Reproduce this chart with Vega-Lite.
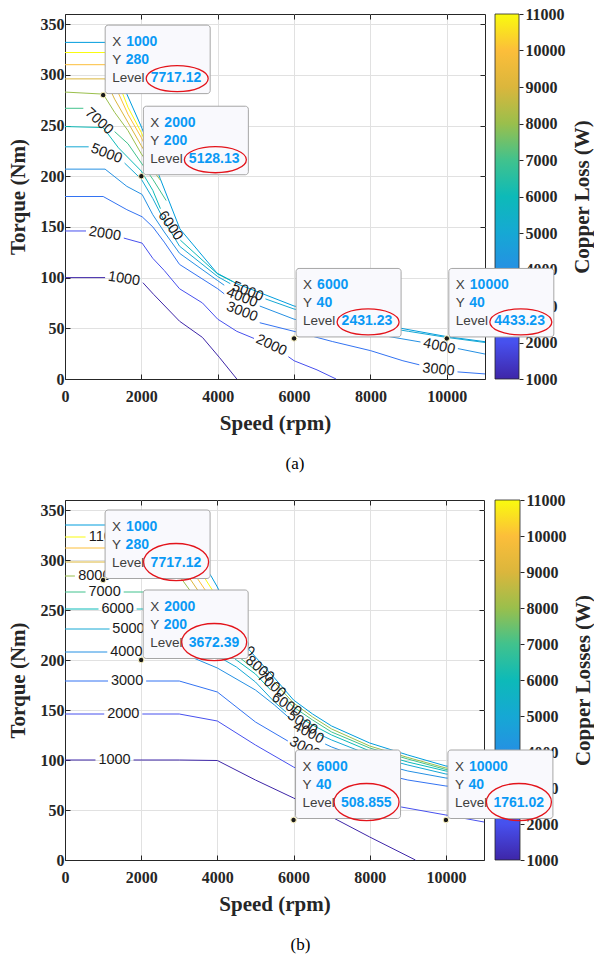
{
  "$schema": "https://vega.github.io/schema/vega-lite/v6.json",
  "background": "white",
  "padding": {"left": 6, "top": 5, "right": 0, "bottom": 0},
  "config": {
    "view": {"stroke": "#262626", "strokeWidth": 1},
    "axis": {
      "labelFont": "Liberation Serif", "labelFontWeight": "bold", "labelFontSize": 16, "labelColor": "#262626",
      "titleFont": "Liberation Serif", "titleFontWeight": "bold", "titleFontSize": 21, "titleColor": "#262626",
      "gridColor": "#e1e1e1", "domainColor": "#262626", "tickColor": "#262626",
      "labelFlush": false, "labelOverlap": false
    },
    "text": {"font": "Liberation Sans"}
  },
  "datasets": {
    "tips": [
      {"panel": "a", "speed": 1000, "torque": 280, "level": 7717.12},
      {"panel": "a", "speed": 2000, "torque": 200, "level": 5128.13},
      {"panel": "a", "speed": 6000, "torque": 40, "level": 2431.23},
      {"panel": "a", "speed": 10000, "torque": 40, "level": 4433.23},
      {"panel": "b", "speed": 1000, "torque": 280, "level": 7717.12},
      {"panel": "b", "speed": 2000, "torque": 200, "level": 3672.39},
      {"panel": "b", "speed": 6000, "torque": 40, "level": 508.855},
      {"panel": "b", "speed": 10000, "torque": 40, "level": 1761.02}
    ],
    "contours": [
      {"panel":"a","level":4500,"seg":"aE","speed":0,"torque":332},
      {"panel":"a","level":4500,"seg":"aE","speed":1050,"torque":332},
      {"panel":"a","level":4500,"seg":"aE","speed":1620,"torque":281},
      {"panel":"a","level":4500,"seg":"aE","speed":2020,"torque":247},
      {"panel":"a","level":4500,"seg":"aE","speed":2490,"torque":198},
      {"panel":"a","level":4500,"seg":"aE","speed":3010,"torque":148},
      {"panel":"a","level":4500,"seg":"aE","speed":3980,"torque":104.5},
      {"panel":"a","level":4500,"seg":"aE","speed":4500,"torque":94},
      {"panel":"a","level":4500,"seg":"aE","speed":6000,"torque":72},
      {"panel":"a","level":4500,"seg":"aE","speed":8800,"torque":50},
      {"panel":"a","level":4500,"seg":"aE","speed":10000,"torque":41.8},
      {"panel":"a","level":4500,"seg":"aE","speed":11000,"torque":36.8},
      {"panel":"a","level":11000,"seg":"a11000-1","speed":0,"torque":322},
      {"panel":"a","level":11000,"seg":"a11000-1","speed":1050,"torque":322},
      {"panel":"a","level":11000,"seg":"a11000-1","speed":1400,"torque":292},
      {"panel":"a","level":11000,"seg":"a11000-1","speed":1650,"torque":268},
      {"panel":"a","level":11000,"seg":"a11000-1","speed":2000,"torque":243},
      {"panel":"a","level":11000,"seg":"a11000-1","speed":2100,"torque":234},
      {"panel":"a","level":10000,"seg":"a10000-1","speed":0,"torque":310},
      {"panel":"a","level":10000,"seg":"a10000-1","speed":1050,"torque":310},
      {"panel":"a","level":10000,"seg":"a10000-1","speed":1350,"torque":286},
      {"panel":"a","level":10000,"seg":"a10000-1","speed":1650,"torque":261},
      {"panel":"a","level":10000,"seg":"a10000-1","speed":2000,"torque":238},
      {"panel":"a","level":10000,"seg":"a10000-1","speed":2200,"torque":222},
      {"panel":"a","level":9000,"seg":"a9000-1","speed":0,"torque":296},
      {"panel":"a","level":9000,"seg":"a9000-1","speed":1050,"torque":296},
      {"panel":"a","level":9000,"seg":"a9000-1","speed":1300,"torque":276},
      {"panel":"a","level":9000,"seg":"a9000-1","speed":1650,"torque":253},
      {"panel":"a","level":9000,"seg":"a9000-1","speed":2000,"torque":230},
      {"panel":"a","level":9000,"seg":"a9000-1","speed":2300,"torque":212},
      {"panel":"a","level":8000,"seg":"a8000-1","speed":0,"torque":283},
      {"panel":"a","level":8000,"seg":"a8000-1","speed":1000,"torque":281},
      {"panel":"a","level":8000,"seg":"a8000-1","speed":1300,"torque":263},
      {"panel":"a","level":8000,"seg":"a8000-1","speed":1650,"torque":245},
      {"panel":"a","level":8000,"seg":"a8000-1","speed":2000,"torque":222},
      {"panel":"a","level":8000,"seg":"a8000-1","speed":2300,"torque":206},
      {"panel":"a","level":8000,"seg":"a8000-1","speed":2500,"torque":196},
      {"panel":"a","level":7000,"seg":"a7000-1","speed":0,"torque":267},
      {"panel":"a","level":7000,"seg":"a7000-1","speed":480,"torque":267},
      {"panel":"a","level":7000,"seg":"a7000-2","speed":1300,"torque":244},
      {"panel":"a","level":7000,"seg":"a7000-2","speed":1650,"torque":232},
      {"panel":"a","level":7000,"seg":"a7000-2","speed":2000,"torque":213},
      {"panel":"a","level":7000,"seg":"a7000-2","speed":2300,"torque":197},
      {"panel":"a","level":7000,"seg":"a7000-2","speed":2650,"torque":176},
      {"panel":"a","level":6000,"seg":"a6000-1","speed":0,"torque":249},
      {"panel":"a","level":6000,"seg":"a6000-1","speed":1000,"torque":248},
      {"panel":"a","level":6000,"seg":"a6000-1","speed":1400,"torque":228},
      {"panel":"a","level":6000,"seg":"a6000-1","speed":2000,"torque":205},
      {"panel":"a","level":6000,"seg":"a6000-1","speed":2300,"torque":186},
      {"panel":"a","level":6000,"seg":"a6000-1","speed":2500,"torque":168},
      {"panel":"a","level":6000,"seg":"a6000-2","speed":3020,"torque":137},
      {"panel":"a","level":6000,"seg":"a6000-2","speed":4000,"torque":103.5},
      {"panel":"a","level":6000,"seg":"a6000-2","speed":4400,"torque":96},
      {"panel":"a","level":5000,"seg":"a5000-1","speed":0,"torque":229},
      {"panel":"a","level":5000,"seg":"a5000-1","speed":620,"torque":229},
      {"panel":"a","level":5000,"seg":"a5000-2","speed":1560,"torque":213},
      {"panel":"a","level":5000,"seg":"a5000-2","speed":2000,"torque":197},
      {"panel":"a","level":5000,"seg":"a5000-2","speed":2300,"torque":178},
      {"panel":"a","level":5000,"seg":"a5000-2","speed":2600,"torque":156},
      {"panel":"a","level":5000,"seg":"a5000-2","speed":3000,"torque":131},
      {"panel":"a","level":5000,"seg":"a5000-2","speed":4000,"torque":101},
      {"panel":"a","level":5000,"seg":"a5000-2","speed":4330,"torque":94},
      {"panel":"a","level":5000,"seg":"a5000-3","speed":5250,"torque":79},
      {"panel":"a","level":5000,"seg":"a5000-3","speed":6000,"torque":69},
      {"panel":"a","level":5000,"seg":"a5000-3","speed":7000,"torque":60},
      {"panel":"a","level":5000,"seg":"a5000-3","speed":8000,"torque":53},
      {"panel":"a","level":5000,"seg":"a5000-3","speed":9000,"torque":47},
      {"panel":"a","level":5000,"seg":"a5000-3","speed":10000,"torque":41},
      {"panel":"a","level":5000,"seg":"a5000-3","speed":11000,"torque":36},
      {"panel":"a","level":4000,"seg":"a4000-1","speed":0,"torque":207},
      {"panel":"a","level":4000,"seg":"a4000-1","speed":1050,"torque":207},
      {"panel":"a","level":4000,"seg":"a4000-1","speed":1620,"torque":190},
      {"panel":"a","level":4000,"seg":"a4000-1","speed":2020,"torque":182},
      {"panel":"a","level":4000,"seg":"a4000-1","speed":2300,"torque":162},
      {"panel":"a","level":4000,"seg":"a4000-1","speed":2600,"torque":145},
      {"panel":"a","level":4000,"seg":"a4000-1","speed":3000,"torque":124},
      {"panel":"a","level":4000,"seg":"a4000-1","speed":4000,"torque":97},
      {"panel":"a","level":4000,"seg":"a4000-1","speed":4170,"torque":92.5},
      {"panel":"a","level":4000,"seg":"a4000-2","speed":5100,"torque":72},
      {"panel":"a","level":4000,"seg":"a4000-2","speed":6000,"torque":59},
      {"panel":"a","level":4000,"seg":"a4000-2","speed":7000,"torque":51},
      {"panel":"a","level":4000,"seg":"a4000-2","speed":8000,"torque":45},
      {"panel":"a","level":4000,"seg":"a4000-2","speed":9310,"torque":36.5},
      {"panel":"a","level":4000,"seg":"a4000-3","speed":10290,"torque":30},
      {"panel":"a","level":4000,"seg":"a4000-3","speed":11000,"torque":24.6},
      {"panel":"a","level":3000,"seg":"a3000-1","speed":0,"torque":180},
      {"panel":"a","level":3000,"seg":"a3000-1","speed":1000,"torque":180},
      {"panel":"a","level":3000,"seg":"a3000-1","speed":1620,"torque":167},
      {"panel":"a","level":3000,"seg":"a3000-1","speed":2020,"torque":160},
      {"panel":"a","level":3000,"seg":"a3000-1","speed":2300,"torque":150},
      {"panel":"a","level":3000,"seg":"a3000-1","speed":2600,"torque":135},
      {"panel":"a","level":3000,"seg":"a3000-1","speed":3000,"torque":113},
      {"panel":"a","level":3000,"seg":"a3000-1","speed":4000,"torque":89},
      {"panel":"a","level":3000,"seg":"a3000-1","speed":4170,"torque":84},
      {"panel":"a","level":3000,"seg":"a3000-2","speed":5100,"torque":55.5},
      {"panel":"a","level":3000,"seg":"a3000-2","speed":6000,"torque":47},
      {"panel":"a","level":3000,"seg":"a3000-2","speed":7000,"torque":37},
      {"panel":"a","level":3000,"seg":"a3000-2","speed":8000,"torque":28},
      {"panel":"a","level":3000,"seg":"a3000-2","speed":8850,"torque":18},
      {"panel":"a","level":3000,"seg":"a3000-2","speed":9280,"torque":14},
      {"panel":"a","level":3000,"seg":"a3000-3","speed":10280,"torque":7},
      {"panel":"a","level":3000,"seg":"a3000-3","speed":11000,"torque":5},
      {"panel":"a","level":2000,"seg":"a2000-1","speed":0,"torque":146},
      {"panel":"a","level":2000,"seg":"a2000-1","speed":550,"torque":146},
      {"panel":"a","level":2000,"seg":"a2000-2","speed":1540,"torque":139},
      {"panel":"a","level":2000,"seg":"a2000-2","speed":2020,"torque":134},
      {"panel":"a","level":2000,"seg":"a2000-2","speed":2300,"torque":119},
      {"panel":"a","level":2000,"seg":"a2000-2","speed":2600,"torque":107},
      {"panel":"a","level":2000,"seg":"a2000-2","speed":3000,"torque":89},
      {"panel":"a","level":2000,"seg":"a2000-2","speed":3600,"torque":75},
      {"panel":"a","level":2000,"seg":"a2000-2","speed":4000,"torque":59},
      {"panel":"a","level":2000,"seg":"a2000-2","speed":4500,"torque":47},
      {"panel":"a","level":2000,"seg":"a2000-2","speed":4950,"torque":40},
      {"panel":"a","level":2000,"seg":"a2000-3","speed":5850,"torque":22},
      {"panel":"a","level":2000,"seg":"a2000-3","speed":6000,"torque":18},
      {"panel":"a","level":2000,"seg":"a2000-3","speed":6600,"torque":9},
      {"panel":"a","level":2000,"seg":"a2000-3","speed":7100,"torque":0},
      {"panel":"a","level":1000,"seg":"a1000-1","speed":0,"torque":100},
      {"panel":"a","level":1000,"seg":"a1000-1","speed":1050,"torque":100},
      {"panel":"a","level":1000,"seg":"a1000-2","speed":2040,"torque":95},
      {"panel":"a","level":1000,"seg":"a1000-2","speed":2320,"torque":83.5},
      {"panel":"a","level":1000,"seg":"a1000-2","speed":3000,"torque":57},
      {"panel":"a","level":1000,"seg":"a1000-2","speed":3600,"torque":41},
      {"panel":"a","level":1000,"seg":"a1000-2","speed":4050,"torque":21},
      {"panel":"a","level":1000,"seg":"a1000-2","speed":4500,"torque":0},

      {"panel":"b","level":4500,"seg":"bE","speed":0,"torque":335},
      {"panel":"b","level":4500,"seg":"bE","speed":3000,"torque":335},
      {"panel":"b","level":4500,"seg":"bE","speed":3400,"torque":310},
      {"panel":"b","level":4500,"seg":"bE","speed":3850,"torque":283},
      {"panel":"b","level":4500,"seg":"bE","speed":4000,"torque":273},
      {"panel":"b","level":4500,"seg":"bE","speed":4770,"torque":213},
      {"panel":"b","level":4500,"seg":"bE","speed":5000,"torque":203},
      {"panel":"b","level":4500,"seg":"bE","speed":5500,"torque":182},
      {"panel":"b","level":4500,"seg":"bE","speed":6000,"torque":160},
      {"panel":"b","level":4500,"seg":"bE","speed":6500,"torque":146},
      {"panel":"b","level":4500,"seg":"bE","speed":7000,"torque":134},
      {"panel":"b","level":4500,"seg":"bE","speed":8000,"torque":117},
      {"panel":"b","level":4500,"seg":"bE","speed":9000,"torque":105},
      {"panel":"b","level":4500,"seg":"bE","speed":10000,"torque":94},
      {"panel":"b","level":4500,"seg":"bE","speed":11000,"torque":90},
      {"panel":"b","level":11000,"seg":"b11000-1","speed":0,"torque":323},
      {"panel":"b","level":11000,"seg":"b11000-1","speed":540,"torque":323},
      {"panel":"b","level":11000,"seg":"b11000-2","speed":1700,"torque":323},
      {"panel":"b","level":11000,"seg":"b11000-2","speed":3000,"torque":323},
      {"panel":"b","level":11000,"seg":"b11000-2","speed":3400,"torque":298},
      {"panel":"b","level":11000,"seg":"b11000-2","speed":3650,"torque":283},
      {"panel":"b","level":11000,"seg":"b11000-2","speed":4000,"torque":262},
      {"panel":"b","level":11000,"seg":"b11000-2","speed":4400,"torque":236},
      {"panel":"b","level":10000,"seg":"b10000-1","speed":0,"torque":312},
      {"panel":"b","level":10000,"seg":"b10000-1","speed":3000,"torque":312},
      {"panel":"b","level":10000,"seg":"b10000-1","speed":3450,"torque":283},
      {"panel":"b","level":10000,"seg":"b10000-1","speed":4000,"torque":252},
      {"panel":"b","level":10000,"seg":"b10000-1","speed":4500,"torque":225},
      {"panel":"b","level":10000,"seg":"b10000-1","speed":4800,"torque":210},
      {"panel":"b","level":9000,"seg":"b9000-1","speed":0,"torque":298},
      {"panel":"b","level":9000,"seg":"b9000-1","speed":3000,"torque":298},
      {"panel":"b","level":9000,"seg":"b9000-1","speed":3250,"torque":283},
      {"panel":"b","level":9000,"seg":"b9000-1","speed":4000,"torque":241},
      {"panel":"b","level":9000,"seg":"b9000-1","speed":4350,"torque":223},
      {"panel":"b","level":8000,"seg":"b8000-1","speed":0,"torque":284},
      {"panel":"b","level":8000,"seg":"b8000-1","speed":260,"torque":284},
      {"panel":"b","level":8000,"seg":"b8000-2","speed":1280,"torque":284},
      {"panel":"b","level":8000,"seg":"b8000-2","speed":3000,"torque":284},
      {"panel":"b","level":8000,"seg":"b8000-2","speed":3100,"torque":279},
      {"panel":"b","level":8000,"seg":"b8000-2","speed":4000,"torque":232},
      {"panel":"b","level":8000,"seg":"b8000-2","speed":4500,"torque":210},
      {"panel":"b","level":8000,"seg":"b8000-2","speed":4730,"torque":203},
      {"panel":"b","level":8000,"seg":"b8000-3","speed":5490,"torque":178},
      {"panel":"b","level":8000,"seg":"b8000-3","speed":6000,"torque":157},
      {"panel":"b","level":8000,"seg":"b8000-3","speed":6500,"torque":143},
      {"panel":"b","level":8000,"seg":"b8000-3","speed":7000,"torque":131},
      {"panel":"b","level":8000,"seg":"b8000-3","speed":8000,"torque":114},
      {"panel":"b","level":8000,"seg":"b8000-3","speed":9000,"torque":102.5},
      {"panel":"b","level":8000,"seg":"b8000-3","speed":10000,"torque":92},
      {"panel":"b","level":8000,"seg":"b8000-3","speed":11000,"torque":88.5},
      {"panel":"b","level":7000,"seg":"b7000-1","speed":0,"torque":268},
      {"panel":"b","level":7000,"seg":"b7000-1","speed":540,"torque":268},
      {"panel":"b","level":7000,"seg":"b7000-2","speed":1540,"torque":268},
      {"panel":"b","level":7000,"seg":"b7000-2","speed":3000,"torque":268},
      {"panel":"b","level":7000,"seg":"b7000-2","speed":3300,"torque":255},
      {"panel":"b","level":7000,"seg":"b7000-2","speed":4000,"torque":222},
      {"panel":"b","level":7000,"seg":"b7000-2","speed":4500,"torque":205},
      {"panel":"b","level":7000,"seg":"b7000-2","speed":5030,"torque":189},
      {"panel":"b","level":7000,"seg":"b7000-3","speed":5815,"torque":160},
      {"panel":"b","level":7000,"seg":"b7000-3","speed":6000,"torque":153},
      {"panel":"b","level":7000,"seg":"b7000-3","speed":6500,"torque":140},
      {"panel":"b","level":7000,"seg":"b7000-3","speed":7000,"torque":128},
      {"panel":"b","level":7000,"seg":"b7000-3","speed":8000,"torque":112},
      {"panel":"b","level":7000,"seg":"b7000-3","speed":9000,"torque":101},
      {"panel":"b","level":7000,"seg":"b7000-3","speed":10000,"torque":90.5},
      {"panel":"b","level":7000,"seg":"b7000-3","speed":11000,"torque":87},
      {"panel":"b","level":6000,"seg":"b6000-1","speed":0,"torque":251},
      {"panel":"b","level":6000,"seg":"b6000-1","speed":880,"torque":251},
      {"panel":"b","level":6000,"seg":"b6000-2","speed":1880,"torque":251},
      {"panel":"b","level":6000,"seg":"b6000-2","speed":3000,"torque":251},
      {"panel":"b","level":6000,"seg":"b6000-2","speed":4000,"torque":215},
      {"panel":"b","level":6000,"seg":"b6000-2","speed":4500,"torque":200},
      {"panel":"b","level":6000,"seg":"b6000-2","speed":5000,"torque":186},
      {"panel":"b","level":6000,"seg":"b6000-2","speed":5400,"torque":170},
      {"panel":"b","level":6000,"seg":"b6000-3","speed":6225,"torque":141},
      {"panel":"b","level":6000,"seg":"b6000-3","speed":6500,"torque":135},
      {"panel":"b","level":6000,"seg":"b6000-3","speed":7000,"torque":125},
      {"panel":"b","level":6000,"seg":"b6000-3","speed":8000,"torque":109},
      {"panel":"b","level":6000,"seg":"b6000-3","speed":9000,"torque":98},
      {"panel":"b","level":6000,"seg":"b6000-3","speed":10000,"torque":89},
      {"panel":"b","level":6000,"seg":"b6000-3","speed":11000,"torque":85.5},
      {"panel":"b","level":5000,"seg":"b5000-1","speed":0,"torque":231},
      {"panel":"b","level":5000,"seg":"b5000-1","speed":1170,"torque":231},
      {"panel":"b","level":5000,"seg":"b5000-2","speed":2170,"torque":231},
      {"panel":"b","level":5000,"seg":"b5000-2","speed":3000,"torque":231},
      {"panel":"b","level":5000,"seg":"b5000-2","speed":4000,"torque":204},
      {"panel":"b","level":5000,"seg":"b5000-2","speed":4500,"torque":193},
      {"panel":"b","level":5000,"seg":"b5000-2","speed":5000,"torque":178},
      {"panel":"b","level":5000,"seg":"b5000-2","speed":5500,"torque":158},
      {"panel":"b","level":5000,"seg":"b5000-2","speed":5800,"torque":148},
      {"panel":"b","level":5000,"seg":"b5000-3","speed":6660,"torque":126},
      {"panel":"b","level":5000,"seg":"b5000-3","speed":7000,"torque":120},
      {"panel":"b","level":5000,"seg":"b5000-3","speed":8000,"torque":105},
      {"panel":"b","level":5000,"seg":"b5000-3","speed":9000,"torque":95},
      {"panel":"b","level":5000,"seg":"b5000-3","speed":10000,"torque":86},
      {"panel":"b","level":5000,"seg":"b5000-3","speed":11000,"torque":83},
      {"panel":"b","level":4000,"seg":"b4000-1","speed":0,"torque":208},
      {"panel":"b","level":4000,"seg":"b4000-1","speed":1110,"torque":208},
      {"panel":"b","level":4000,"seg":"b4000-2","speed":2110,"torque":208},
      {"panel":"b","level":4000,"seg":"b4000-2","speed":3000,"torque":208},
      {"panel":"b","level":4000,"seg":"b4000-2","speed":4000,"torque":192},
      {"panel":"b","level":4000,"seg":"b4000-2","speed":5000,"torque":170},
      {"panel":"b","level":4000,"seg":"b4000-2","speed":5500,"torque":155},
      {"panel":"b","level":4000,"seg":"b4000-2","speed":5950,"torque":140},
      {"panel":"b","level":4000,"seg":"b4000-3","speed":6830,"torque":116},
      {"panel":"b","level":4000,"seg":"b4000-3","speed":7000,"torque":113},
      {"panel":"b","level":4000,"seg":"b4000-3","speed":8000,"torque":99},
      {"panel":"b","level":4000,"seg":"b4000-3","speed":9000,"torque":89},
      {"panel":"b","level":4000,"seg":"b4000-3","speed":10000,"torque":82},
      {"panel":"b","level":4000,"seg":"b4000-3","speed":11000,"torque":79},
      {"panel":"b","level":3000,"seg":"b3000-1","speed":0,"torque":179},
      {"panel":"b","level":3000,"seg":"b3000-1","speed":1130,"torque":179},
      {"panel":"b","level":3000,"seg":"b3000-2","speed":2130,"torque":179},
      {"panel":"b","level":3000,"seg":"b3000-2","speed":3000,"torque":179},
      {"panel":"b","level":3000,"seg":"b3000-2","speed":4000,"torque":168},
      {"panel":"b","level":3000,"seg":"b3000-2","speed":5000,"torque":138},
      {"panel":"b","level":3000,"seg":"b3000-2","speed":5850,"torque":119},
      {"panel":"b","level":3000,"seg":"b3000-3","speed":6740,"torque":106},
      {"panel":"b","level":3000,"seg":"b3000-3","speed":7000,"torque":101},
      {"panel":"b","level":3000,"seg":"b3000-3","speed":8000,"torque":89},
      {"panel":"b","level":3000,"seg":"b3000-3","speed":9000,"torque":80},
      {"panel":"b","level":3000,"seg":"b3000-3","speed":10000,"torque":74},
      {"panel":"b","level":3000,"seg":"b3000-3","speed":11000,"torque":71},
      {"panel":"b","level":2000,"seg":"b2000-1","speed":0,"torque":146},
      {"panel":"b","level":2000,"seg":"b2000-1","speed":1030,"torque":146},
      {"panel":"b","level":2000,"seg":"b2000-2","speed":2030,"torque":146},
      {"panel":"b","level":2000,"seg":"b2000-2","speed":3000,"torque":146},
      {"panel":"b","level":2000,"seg":"b2000-2","speed":4000,"torque":139},
      {"panel":"b","level":2000,"seg":"b2000-2","speed":5000,"torque":115},
      {"panel":"b","level":2000,"seg":"b2000-2","speed":6000,"torque":93},
      {"panel":"b","level":2000,"seg":"b2000-2","speed":7000,"torque":75},
      {"panel":"b","level":2000,"seg":"b2000-2","speed":8000,"torque":61},
      {"panel":"b","level":2000,"seg":"b2000-2","speed":8830,"torque":53},
      {"panel":"b","level":2000,"seg":"b2000-2","speed":10000,"torque":45},
      {"panel":"b","level":2000,"seg":"b2000-2","speed":11000,"torque":38},
      {"panel":"b","level":1000,"seg":"b1000-1","speed":0,"torque":100},
      {"panel":"b","level":1000,"seg":"b1000-1","speed":800,"torque":100},
      {"panel":"b","level":1000,"seg":"b1000-2","speed":1800,"torque":100},
      {"panel":"b","level":1000,"seg":"b1000-2","speed":3000,"torque":100},
      {"panel":"b","level":1000,"seg":"b1000-2","speed":4000,"torque":99.5},
      {"panel":"b","level":1000,"seg":"b1000-2","speed":5000,"torque":80},
      {"panel":"b","level":1000,"seg":"b1000-2","speed":6000,"torque":62},
      {"panel":"b","level":1000,"seg":"b1000-2","speed":7000,"torque":43},
      {"panel":"b","level":1000,"seg":"b1000-2","speed":8000,"torque":23},
      {"panel":"b","level":1000,"seg":"b1000-2","speed":9200,"torque":0}
    ]
  },
  "spacing": 18,
  "vconcat": [
    {
      "width": 420,
      "height": 365,
      "title": {"text": "(a)", "orient": "bottom", "anchor": "middle", "frame": "group", "dx": 20, "offset": 23, "font": "Liberation Serif", "fontSize": 17, "fontWeight": "normal", "color": "#000000"},
      "resolve": {"scale": {"y": "independent"}, "axis": {"x": "independent", "y": "independent"}},
      "layer": [
        {
          "data": {"name": "contours"},
          "transform": [{"filter": "datum.panel === 'a'"}],
          "mark": {"type": "line", "strokeWidth": 1},
          "encoding": {
            "x": {"field": "speed", "type": "quantitative", "scale": {"domain": [0, 11000], "nice": false, "zero": false},
                  "axis": {"orient": "bottom", "values": [0, 2000, 4000, 6000, 8000, 10000], "format": "d", "title": "Speed (rpm)", "grid": true, "tickSize": -5, "labelPadding": 14, "titlePadding": 8}},
            "y": {"field": "torque", "type": "quantitative", "scale": {"domain": [0, 360], "nice": false, "zero": false},
                  "axis": {"orient": "left", "values": [0, 50, 100, 150, 200, 250, 300, 350], "format": "d", "title": "Torque (Nm)", "grid": true, "tickSize": -5, "labelPadding": 6, "titlePadding": 12}},
            "color": {"field": "level", "type": "quantitative", "legend": null,
                      "scale": {"domain": [1000, 2000, 3000, 4000, 5000, 6000, 7000, 8000, 9000, 10000, 11000],
                                "range": ["#3E26A8", "#4750EE", "#3373F2", "#2590E3", "#16A8D4", "#0DBAB8", "#41C28D", "#9ABF4C", "#DBB63C", "#FCBE3A", "#F9FB0E"]}},
            "detail": {"field": "seg", "type": "nominal"}
          }
        },
        {
          "data": {"values": [{"speed": 890, "torque": 254, "label": "7000"}]},
          "mark": {"type": "text", "angle": 42, "fontSize": 14.5, "color": "#1a1a1a"},
          "encoding": {
            "x": {"field": "speed", "type": "quantitative", "scale": {"domain": [0, 11000], "nice": false, "zero": false},
                  "axis": {"orient": "top", "values": [0, 2000, 4000, 6000, 8000, 10000], "labels": false, "grid": false, "domain": false, "tickSize": -5, "title": null}},
            "y": {"field": "torque", "type": "quantitative", "scale": {"domain": [0, 360], "nice": false, "zero": false},
                  "axis": {"orient": "right", "values": [0, 50, 100, 150, 200, 250, 300, 350], "labels": false, "grid": false, "domain": false, "tickSize": -5, "title": null}},
            "text": {"field": "label"}
          }
        },
        {
          "data": {"values": [{"speed": 1086, "torque": 222, "label": "5000"}, {"speed": 4785, "torque": 86, "label": "5000"}, {"speed": 4634, "torque": 80, "label": "4000"}, {"speed": 4634, "torque": 66, "label": "3000"}]},
          "mark": {"type": "text", "angle": 21, "fontSize": 14.5, "color": "#1a1a1a"},
          "encoding": {
            "x": {"field": "speed", "type": "quantitative", "scale": {"domain": [0, 11000], "nice": false, "zero": false}, "axis": null},
            "y": {"field": "torque", "type": "quantitative", "scale": {"domain": [0, 360], "nice": false, "zero": false}, "axis": null},
            "text": {"field": "label"}
          }
        },
        {
          "data": {"values": [{"speed": 1042, "torque": 143, "label": "2000"}, {"speed": 1545, "torque": 98.6, "label": "1000"}]},
          "mark": {"type": "text", "angle": 9, "fontSize": 14.5, "color": "#1a1a1a"},
          "encoding": {
            "x": {"field": "speed", "type": "quantitative", "scale": {"domain": [0, 11000], "nice": false, "zero": false}, "axis": null},
            "y": {"field": "torque", "type": "quantitative", "scale": {"domain": [0, 360], "nice": false, "zero": false}, "axis": null},
            "text": {"field": "label"}
          }
        },
        {
          "data": {"values": [{"speed": 2757, "torque": 151, "label": "6000"}]},
          "mark": {"type": "text", "angle": 55, "fontSize": 14.5, "color": "#1a1a1a"},
          "encoding": {
            "x": {"field": "speed", "type": "quantitative", "scale": {"domain": [0, 11000], "nice": false, "zero": false}, "axis": null},
            "y": {"field": "torque", "type": "quantitative", "scale": {"domain": [0, 360], "nice": false, "zero": false}, "axis": null},
            "text": {"field": "label"}
          }
        },
        {
          "data": {"values": [{"speed": 5400, "torque": 33, "label": "2000"}]},
          "mark": {"type": "text", "angle": 25, "fontSize": 14.5, "color": "#1a1a1a"},
          "encoding": {
            "x": {"field": "speed", "type": "quantitative", "scale": {"domain": [0, 11000], "nice": false, "zero": false}, "axis": null},
            "y": {"field": "torque", "type": "quantitative", "scale": {"domain": [0, 360], "nice": false, "zero": false}, "axis": null},
            "text": {"field": "label"}
          }
        },
        {
          "data": {"values": [{"speed": 9800, "torque": 32, "label": "4000"}]},
          "mark": {"type": "text", "angle": 12, "fontSize": 14.5, "color": "#1a1a1a"},
          "encoding": {
            "x": {"field": "speed", "type": "quantitative", "scale": {"domain": [0, 11000], "nice": false, "zero": false}, "axis": null},
            "y": {"field": "torque", "type": "quantitative", "scale": {"domain": [0, 360], "nice": false, "zero": false}, "axis": null},
            "text": {"field": "label"}
          }
        },
        {
          "data": {"values": [{"speed": 9780, "torque": 9, "label": "3000"}]},
          "mark": {"type": "text", "angle": 6, "fontSize": 14.5, "color": "#1a1a1a"},
          "encoding": {
            "x": {"field": "speed", "type": "quantitative", "scale": {"domain": [0, 11000], "nice": false, "zero": false}, "axis": null},
            "y": {"field": "torque", "type": "quantitative", "scale": {"domain": [0, 360], "nice": false, "zero": false}, "axis": null},
            "text": {"field": "label"}
          }
        },
        {
          "data": {"values": [{"lo": 1000, "hi": 11000}]},
          "mark": {"type": "rect", "stroke": "#262626", "strokeWidth": 0.8, "xOffset": 10, "x2Offset": 34,
                   "fill": {"gradient": "linear", "x1": 0, "y1": 1, "x2": 0, "y2": 0,
                            "stops": [{"offset": 0, "color": "#3E26A8"}, {"offset": 0.1, "color": "#4750EE"}, {"offset": 0.2, "color": "#3373F2"}, {"offset": 0.3, "color": "#2590E3"}, {"offset": 0.4, "color": "#16A8D4"}, {"offset": 0.5, "color": "#0DBAB8"}, {"offset": 0.6, "color": "#41C28D"}, {"offset": 0.7, "color": "#9ABF4C"}, {"offset": 0.8, "color": "#DBB63C"}, {"offset": 0.9, "color": "#FCBE3A"}, {"offset": 1, "color": "#F9FB0E"}]}},
          "encoding": {
            "x": {"value": "width"},
            "x2": {"value": "width"},
            "y": {"field": "lo", "type": "quantitative", "scale": {"domain": [1000, 11000], "nice": false, "zero": false},
                  "axis": {"orient": "right", "offset": 34, "values": [1000, 2000, 3000, 4000, 5000, 6000, 7000, 8000, 9000, 10000, 11000], "format": "d", "title": "Copper Loss (W)", "grid": false, "domain": false, "tickSize": 4, "labelPadding": 2, "titleAngle": 270, "titleBaseline": "top", "titlePadding": 6}},
            "y2": {"field": "hi"}
          }
        },
        {
          "data": {"name": "tips"},
          "transform": [{"filter": "datum.panel === 'a'"}],
          "mark": {"type": "rect", "fill": "#f9f9fd", "stroke": "#a6a6a6", "strokeWidth": 1, "cornerRadius": 3, "xOffset": 2, "x2Offset": 107, "yOffset": -70, "y2Offset": -1.5},
          "encoding": {
            "x": {"field": "speed", "type": "quantitative", "scale": {"domain": [0, 11000], "nice": false, "zero": false}, "axis": null},
            "x2": {"field": "speed"},
            "y": {"field": "torque", "type": "quantitative", "scale": {"domain": [0, 360], "nice": false, "zero": false}, "axis": null},
            "y2": {"field": "torque"}
          }
        },
        {
          "data": {"name": "tips"},
          "transform": [{"filter": "datum.panel === 'a'"}],
          "mark": {"type": "point", "filled": true, "fill": "#1a1a1a", "stroke": "#fff6c0", "strokeWidth": 1, "size": 30, "opacity": 1},
          "encoding": {
            "x": {"field": "speed", "type": "quantitative", "scale": {"domain": [0, 11000], "nice": false, "zero": false}, "axis": null},
            "y": {"field": "torque", "type": "quantitative", "scale": {"domain": [0, 360], "nice": false, "zero": false}, "axis": null}
          }
        },
        {
          "data": {"name": "tips"},
          "transform": [{"filter": "datum.panel === 'a'"}],
          "mark": {"type": "text", "text": "X", "align": "left", "baseline": "middle", "dx": 9, "dy": -53, "fontSize": 13.5, "color": "#404040"},
          "encoding": {
            "x": {"field": "speed", "type": "quantitative", "scale": {"domain": [0, 11000], "nice": false, "zero": false}, "axis": null},
            "y": {"field": "torque", "type": "quantitative", "scale": {"domain": [0, 360], "nice": false, "zero": false}, "axis": null}
          }
        },
        {
          "data": {"name": "tips"},
          "transform": [{"filter": "datum.panel === 'a'"}],
          "mark": {"type": "text", "text": "Y", "align": "left", "baseline": "middle", "dx": 9, "dy": -35, "fontSize": 13.5, "color": "#404040"},
          "encoding": {
            "x": {"field": "speed", "type": "quantitative", "scale": {"domain": [0, 11000], "nice": false, "zero": false}, "axis": null},
            "y": {"field": "torque", "type": "quantitative", "scale": {"domain": [0, 360], "nice": false, "zero": false}, "axis": null}
          }
        },
        {
          "data": {"name": "tips"},
          "transform": [{"filter": "datum.panel === 'a'"}],
          "mark": {"type": "text", "text": "Level", "align": "left", "baseline": "middle", "dx": 9, "dy": -17, "fontSize": 13.5, "color": "#404040"},
          "encoding": {
            "x": {"field": "speed", "type": "quantitative", "scale": {"domain": [0, 11000], "nice": false, "zero": false}, "axis": null},
            "y": {"field": "torque", "type": "quantitative", "scale": {"domain": [0, 360], "nice": false, "zero": false}, "axis": null}
          }
        },
        {
          "data": {"name": "tips"},
          "transform": [{"filter": "datum.panel === 'a'"}],
          "mark": {"type": "text", "align": "left", "baseline": "middle", "dx": 23, "dy": -53, "fontSize": 14, "fontWeight": "bold", "color": "#0a99f5"},
          "encoding": {
            "x": {"field": "speed", "type": "quantitative", "scale": {"domain": [0, 11000], "nice": false, "zero": false}, "axis": null},
            "y": {"field": "torque", "type": "quantitative", "scale": {"domain": [0, 360], "nice": false, "zero": false}, "axis": null},
            "text": {"field": "speed", "type": "quantitative", "format": "d"}
          }
        },
        {
          "data": {"name": "tips"},
          "transform": [{"filter": "datum.panel === 'a'"}],
          "mark": {"type": "text", "align": "left", "baseline": "middle", "dx": 22.5, "dy": -35, "fontSize": 14, "fontWeight": "bold", "color": "#0a99f5"},
          "encoding": {
            "x": {"field": "speed", "type": "quantitative", "scale": {"domain": [0, 11000], "nice": false, "zero": false}, "axis": null},
            "y": {"field": "torque", "type": "quantitative", "scale": {"domain": [0, 360], "nice": false, "zero": false}, "axis": null},
            "text": {"field": "torque", "type": "quantitative", "format": "d"}
          }
        },
        {
          "data": {"name": "tips"},
          "transform": [{"filter": "datum.panel === 'a'"}],
          "mark": {"type": "text", "align": "left", "baseline": "middle", "dx": 47.5, "dy": -17, "fontSize": 14, "fontWeight": "bold", "color": "#0a99f5"},
          "encoding": {
            "x": {"field": "speed", "type": "quantitative", "scale": {"domain": [0, 11000], "nice": false, "zero": false}, "axis": null},
            "y": {"field": "torque", "type": "quantitative", "scale": {"domain": [0, 360], "nice": false, "zero": false}, "axis": null},
            "text": {"field": "level", "type": "quantitative", "format": ".6r"}
          }
        },
        {
          "data": {"name": "tips"},
          "transform": [{"filter": "datum.panel === 'a'"}],
          "mark": {"type": "point", "shape": "M-1,0C-1,-0.232,-0.552,-0.42,0,-0.42C0.552,-0.42,1,-0.232,1,0C1,0.232,0.552,0.42,0,0.42C-0.552,0.42,-1,0.232,-1,0Z",
                   "filled": false, "color": "#e3141b", "strokeWidth": 1.3, "size": 3844, "xOffset": 74, "yOffset": -16.5, "opacity": 1},
          "encoding": {
            "x": {"field": "speed", "type": "quantitative", "scale": {"domain": [0, 11000], "nice": false, "zero": false}, "axis": null},
            "y": {"field": "torque", "type": "quantitative", "scale": {"domain": [0, 360], "nice": false, "zero": false}, "axis": null}
          }
        }
      ]
    },
    {
      "width": 419,
      "height": 360,
      "title": {"text": "(b)", "orient": "bottom", "anchor": "middle", "frame": "group", "dx": 26, "offset": 23, "font": "Liberation Serif", "fontSize": 17, "fontWeight": "normal", "color": "#000000"},
      "resolve": {"scale": {"y": "independent"}, "axis": {"x": "independent", "y": "independent"}},
      "layer": [
        {
          "data": {"name": "contours"},
          "transform": [{"filter": "datum.panel === 'b'"}],
          "mark": {"type": "line", "strokeWidth": 1},
          "encoding": {
            "x": {"field": "speed", "type": "quantitative", "scale": {"domain": [0, 11000], "nice": false, "zero": false},
                  "axis": {"orient": "bottom", "values": [0, 2000, 4000, 6000, 8000, 10000], "format": "d", "title": "Speed (rpm)", "grid": true, "tickSize": -5, "labelPadding": 14, "titlePadding": 8}},
            "y": {"field": "torque", "type": "quantitative", "scale": {"domain": [0, 360], "nice": false, "zero": false},
                  "axis": {"orient": "left", "values": [0, 50, 100, 150, 200, 250, 300, 350], "format": "d", "title": "Torque (Nm)", "grid": true, "tickSize": -5, "labelPadding": 6, "titlePadding": 12}},
            "color": {"field": "level", "type": "quantitative", "legend": null,
                      "scale": {"domain": [1000, 2000, 3000, 4000, 5000, 6000, 7000, 8000, 9000, 10000, 11000],
                                "range": ["#3E26A8", "#4750EE", "#3373F2", "#2590E3", "#16A8D4", "#0DBAB8", "#41C28D", "#9ABF4C", "#DBB63C", "#FCBE3A", "#F9FB0E"]}},
            "detail": {"field": "seg", "type": "nominal"}
          }
        },
        {
          "data": {"values": [{"speed": 1140, "torque": 323, "label": "11000"}, {"speed": 770, "torque": 284, "label": "8000"}, {"speed": 1040, "torque": 268, "label": "7000"}, {"speed": 1380, "torque": 251, "label": "6000"}, {"speed": 1667, "torque": 231, "label": "5000"}, {"speed": 1610, "torque": 208, "label": "4000"}, {"speed": 1630, "torque": 179, "label": "3000"}, {"speed": 1530, "torque": 146, "label": "2000"}, {"speed": 1300, "torque": 100, "label": "1000"}]},
          "mark": {"type": "text", "fontSize": 14.5, "color": "#1a1a1a"},
          "encoding": {
            "x": {"field": "speed", "type": "quantitative", "scale": {"domain": [0, 11000], "nice": false, "zero": false},
                  "axis": {"orient": "top", "values": [0, 2000, 4000, 6000, 8000, 10000], "labels": false, "grid": false, "domain": false, "tickSize": -5, "title": null}},
            "y": {"field": "torque", "type": "quantitative", "scale": {"domain": [0, 360], "nice": false, "zero": false},
                  "axis": {"orient": "right", "values": [0, 50, 100, 150, 200, 250, 300, 350], "labels": false, "grid": false, "domain": false, "tickSize": -5, "title": null}},
            "text": {"field": "label"}
          }
        },
        {
          "data": {"values": [{"speed": 4600, "torque": 216, "label": "9000"}, {"speed": 5110, "torque": 191, "label": "8000"}, {"speed": 5420, "torque": 175, "label": "7000"}]},
          "mark": {"type": "text", "angle": 40, "fontSize": 14.5, "color": "#1a1a1a"},
          "encoding": {
            "x": {"field": "speed", "type": "quantitative", "scale": {"domain": [0, 11000], "nice": false, "zero": false}, "axis": null},
            "y": {"field": "torque", "type": "quantitative", "scale": {"domain": [0, 360], "nice": false, "zero": false}, "axis": null},
            "text": {"field": "label"}
          }
        },
        {
          "data": {"values": [{"speed": 5814, "torque": 155, "label": "6000"}, {"speed": 6230, "torque": 137, "label": "5000"}]},
          "mark": {"type": "text", "angle": 33, "fontSize": 14.5, "color": "#1a1a1a"},
          "encoding": {
            "x": {"field": "speed", "type": "quantitative", "scale": {"domain": [0, 11000], "nice": false, "zero": false}, "axis": null},
            "y": {"field": "torque", "type": "quantitative", "scale": {"domain": [0, 360], "nice": false, "zero": false}, "axis": null},
            "text": {"field": "label"}
          }
        },
        {
          "data": {"values": [{"speed": 6390, "torque": 127, "label": "4000"}, {"speed": 6290, "torque": 112, "label": "3000"}]},
          "mark": {"type": "text", "angle": 27, "fontSize": 14.5, "color": "#1a1a1a"},
          "encoding": {
            "x": {"field": "speed", "type": "quantitative", "scale": {"domain": [0, 11000], "nice": false, "zero": false}, "axis": null},
            "y": {"field": "torque", "type": "quantitative", "scale": {"domain": [0, 360], "nice": false, "zero": false}, "axis": null},
            "text": {"field": "label"}
          }
        },
        {
          "data": {"values": [{"lo": 1000, "hi": 11000}]},
          "mark": {"type": "rect", "stroke": "#262626", "strokeWidth": 0.8, "xOffset": 11, "x2Offset": 36,
                   "fill": {"gradient": "linear", "x1": 0, "y1": 1, "x2": 0, "y2": 0,
                            "stops": [{"offset": 0, "color": "#3E26A8"}, {"offset": 0.1, "color": "#4750EE"}, {"offset": 0.2, "color": "#3373F2"}, {"offset": 0.3, "color": "#2590E3"}, {"offset": 0.4, "color": "#16A8D4"}, {"offset": 0.5, "color": "#0DBAB8"}, {"offset": 0.6, "color": "#41C28D"}, {"offset": 0.7, "color": "#9ABF4C"}, {"offset": 0.8, "color": "#DBB63C"}, {"offset": 0.9, "color": "#FCBE3A"}, {"offset": 1, "color": "#F9FB0E"}]}},
          "encoding": {
            "x": {"value": "width"},
            "x2": {"value": "width"},
            "y": {"field": "lo", "type": "quantitative", "scale": {"domain": [1000, 11000], "nice": false, "zero": false},
                  "axis": {"orient": "right", "offset": 36, "values": [1000, 2000, 3000, 4000, 5000, 6000, 7000, 8000, 9000, 10000, 11000], "format": "d", "title": "Copper Losses (W)", "grid": false, "domain": false, "tickSize": 4, "labelPadding": 2, "titleAngle": 270, "titleBaseline": "top", "titlePadding": 6}},
            "y2": {"field": "hi"}
          }
        },
        {
          "data": {"name": "tips"},
          "transform": [{"filter": "datum.panel === 'b'"}],
          "mark": {"type": "rect", "fill": "#f9f9fd", "stroke": "#a6a6a6", "strokeWidth": 1, "cornerRadius": 3, "xOffset": 2, "x2Offset": 107, "yOffset": -70, "y2Offset": -1.5},
          "encoding": {
            "x": {"field": "speed", "type": "quantitative", "scale": {"domain": [0, 11000], "nice": false, "zero": false}, "axis": null},
            "x2": {"field": "speed"},
            "y": {"field": "torque", "type": "quantitative", "scale": {"domain": [0, 360], "nice": false, "zero": false}, "axis": null},
            "y2": {"field": "torque"}
          }
        },
        {
          "data": {"name": "tips"},
          "transform": [{"filter": "datum.panel === 'b'"}],
          "mark": {"type": "point", "filled": true, "fill": "#1a1a1a", "stroke": "#fff6c0", "strokeWidth": 1, "size": 30, "opacity": 1},
          "encoding": {
            "x": {"field": "speed", "type": "quantitative", "scale": {"domain": [0, 11000], "nice": false, "zero": false}, "axis": null},
            "y": {"field": "torque", "type": "quantitative", "scale": {"domain": [0, 360], "nice": false, "zero": false}, "axis": null}
          }
        },
        {
          "data": {"name": "tips"},
          "transform": [{"filter": "datum.panel === 'b'"}],
          "mark": {"type": "text", "text": "X", "align": "left", "baseline": "middle", "dx": 9, "dy": -53, "fontSize": 13.5, "color": "#404040"},
          "encoding": {
            "x": {"field": "speed", "type": "quantitative", "scale": {"domain": [0, 11000], "nice": false, "zero": false}, "axis": null},
            "y": {"field": "torque", "type": "quantitative", "scale": {"domain": [0, 360], "nice": false, "zero": false}, "axis": null}
          }
        },
        {
          "data": {"name": "tips"},
          "transform": [{"filter": "datum.panel === 'b'"}],
          "mark": {"type": "text", "text": "Y", "align": "left", "baseline": "middle", "dx": 9, "dy": -35, "fontSize": 13.5, "color": "#404040"},
          "encoding": {
            "x": {"field": "speed", "type": "quantitative", "scale": {"domain": [0, 11000], "nice": false, "zero": false}, "axis": null},
            "y": {"field": "torque", "type": "quantitative", "scale": {"domain": [0, 360], "nice": false, "zero": false}, "axis": null}
          }
        },
        {
          "data": {"name": "tips"},
          "transform": [{"filter": "datum.panel === 'b'"}],
          "mark": {"type": "text", "text": "Level", "align": "left", "baseline": "middle", "dx": 9, "dy": -17, "fontSize": 13.5, "color": "#404040"},
          "encoding": {
            "x": {"field": "speed", "type": "quantitative", "scale": {"domain": [0, 11000], "nice": false, "zero": false}, "axis": null},
            "y": {"field": "torque", "type": "quantitative", "scale": {"domain": [0, 360], "nice": false, "zero": false}, "axis": null}
          }
        },
        {
          "data": {"name": "tips"},
          "transform": [{"filter": "datum.panel === 'b'"}],
          "mark": {"type": "text", "align": "left", "baseline": "middle", "dx": 23, "dy": -53, "fontSize": 14, "fontWeight": "bold", "color": "#0a99f5"},
          "encoding": {
            "x": {"field": "speed", "type": "quantitative", "scale": {"domain": [0, 11000], "nice": false, "zero": false}, "axis": null},
            "y": {"field": "torque", "type": "quantitative", "scale": {"domain": [0, 360], "nice": false, "zero": false}, "axis": null},
            "text": {"field": "speed", "type": "quantitative", "format": "d"}
          }
        },
        {
          "data": {"name": "tips"},
          "transform": [{"filter": "datum.panel === 'b'"}],
          "mark": {"type": "text", "align": "left", "baseline": "middle", "dx": 22.5, "dy": -35, "fontSize": 14, "fontWeight": "bold", "color": "#0a99f5"},
          "encoding": {
            "x": {"field": "speed", "type": "quantitative", "scale": {"domain": [0, 11000], "nice": false, "zero": false}, "axis": null},
            "y": {"field": "torque", "type": "quantitative", "scale": {"domain": [0, 360], "nice": false, "zero": false}, "axis": null},
            "text": {"field": "torque", "type": "quantitative", "format": "d"}
          }
        },
        {
          "data": {"name": "tips"},
          "transform": [{"filter": "datum.panel === 'b'"}],
          "mark": {"type": "text", "align": "left", "baseline": "middle", "dx": 47.5, "dy": -17, "fontSize": 14, "fontWeight": "bold", "color": "#0a99f5"},
          "encoding": {
            "x": {"field": "speed", "type": "quantitative", "scale": {"domain": [0, 11000], "nice": false, "zero": false}, "axis": null},
            "y": {"field": "torque", "type": "quantitative", "scale": {"domain": [0, 360], "nice": false, "zero": false}, "axis": null},
            "text": {"field": "level", "type": "quantitative", "format": ".6r"}
          }
        },
        {
          "data": {"name": "tips"},
          "transform": [{"filter": "datum.panel === 'b'"}],
          "mark": {"type": "point", "shape": "M-1,0C-1,-0.315,-0.552,-0.57,0,-0.57C0.552,-0.57,1,-0.315,1,0C1,0.315,0.552,0.57,0,0.57C-0.552,0.57,-1,0.315,-1,0Z",
                   "filled": false, "color": "#e3141b", "strokeWidth": 1.3, "size": 4225, "xOffset": 73, "yOffset": -18, "opacity": 1},
          "encoding": {
            "x": {"field": "speed", "type": "quantitative", "scale": {"domain": [0, 11000], "nice": false, "zero": false}, "axis": null},
            "y": {"field": "torque", "type": "quantitative", "scale": {"domain": [0, 360], "nice": false, "zero": false}, "axis": null}
          }
        }
      ]
    }
  ]
}
